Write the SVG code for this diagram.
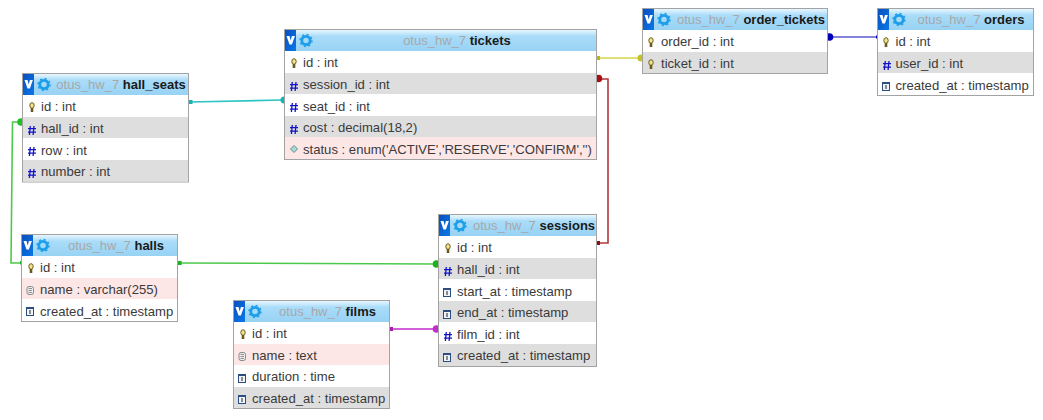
<svg xmlns="http://www.w3.org/2000/svg" xmlns:xlink="http://www.w3.org/1999/xlink" width="1043" height="420" viewBox="0 0 1043 420">
<style>
text{font-family:"Liberation Sans",Arial,sans-serif;font-size:13.1px;fill:#3a3a3a}
.t{font-size:13px;text-anchor:middle}
.db{fill:#a8a8a8}
.tb{font-weight:bold;fill:#1a1a1a}
.box{fill:#fff;stroke:#a3a3a3;stroke-width:1}
.g{fill:#dedede}
.p{fill:#fde6e6}
.c{fill:none;stroke-width:1.6}
</style>
<defs>
<linearGradient id="hd" x1="0" y1="0" x2="0" y2="1"><stop offset="0" stop-color="#e8f6fe"/><stop offset=".3" stop-color="#a9dcf9"/><stop offset="1" stop-color="#98d2f4"/></linearGradient>
<linearGradient id="vb" x1="0" y1="0" x2="1" y2="1"><stop offset="0" stop-color="#0a4fc0"/><stop offset="1" stop-color="#0a78e6"/></linearGradient>
<g id="head"><rect x="0" y="0" width="11" height="21" fill="url(#vb)"/><path d="M1.500 6h3l1.200 4.500L6.900 6h3l-3 8.500H4.500z" fill="#fff"/><circle cx="21" cy="10.500" r="4.200" fill="none" stroke="#1d9ee8" stroke-width="2.800"/><circle cx="21" cy="10.500" r="6" fill="none" stroke="#1d9ee8" stroke-width="1.400" stroke-dasharray="2 2.700"/></g>
<g id="key"><ellipse cx="0" cy="-1.500" rx="2.200" ry="2.800" fill="#f3e38e" stroke="#6b5a1c"/><path d="M0 1V5" stroke="#6b5a1c" stroke-width="2.600"/></g>
<path id="hash" d="M-1.700-4-2.600 5M2-4 1.100 5M-4-1.300H4M-4 2.200H4" stroke="#1212c8" stroke-width="1.300" fill="none"/>
<g id="ts"><rect x="-3.500" y="-3.500" width="7" height="8" fill="#eef4fa" stroke="#2c4d80"/><path d="M-3-2.500h6" stroke="#2c4d80"/><path d="M0-1v4" stroke="#222"/></g>
<g id="txt"><rect x="-3" y="-3.500" width="6.500" height="8" rx="2" fill="#eee" stroke="#888"/><path d="M-1.500-1.500h3.500M-1.500.500h3.500M-1.500 2.500h3.500" stroke="#777" stroke-width=".8"/></g>
<path id="en" d="M0-3.500 3.500 0 0 3.500-3.500 0z" fill="#a5dcd5" stroke="#6b8a8a"/>
</defs>
<rect width="1043" height="420" fill="#fff"/>
<g id="connectors">
<path class="c" stroke="#2ec4c4" d="M190 102 283 100"/><rect x="188.500" y="100" width="4" height="4" fill="#16b5b5"/><circle cx="284" cy="100" r="3.500" fill="#16b5b5"/>
<path class="c" stroke="#d6d64a" d="M597 58H642"/><rect x="596" y="56" width="4" height="4" fill="#b9b914"/><circle cx="641" cy="58" r="3.500" fill="#c4c420"/>
<path class="c" stroke="#b0383c" d="M598 79H608V243H597"/><circle cx="598.500" cy="78.500" r="3.800" fill="#a80f14"/><rect x="596" y="241" width="4" height="4" fill="#8e0f14"/>
<path class="c" stroke="#5a5ad0" d="M829 37H877"/><circle cx="829.500" cy="37" r="3.800" fill="#0000b8"/><rect x="876" y="35.500" width="2" height="3" fill="#0000b8"/>
<path class="c" stroke="#4cc94c" d="M21 122H12.500L11 263H21"/><circle cx="21" cy="122" r="3.800" fill="#1fc01f"/><rect x="20" y="261" width="2" height="3.500" fill="#1fb01f"/>
<path class="c" stroke="#4cc94c" d="M179 263 436 264"/><rect x="177.500" y="261" width="4" height="4" fill="#1fb01f"/><circle cx="436.500" cy="264" r="3.800" fill="#1fb01f"/>
<path class="c" stroke="#d05fd8" d="M391 329H437" style="stroke-width:2"/><rect x="389" y="327" width="4" height="4" fill="#a81fa8"/><circle cx="436.500" cy="329" r="3.800" fill="#c030c8"/>
</g>
<g id="hall_seats">
<rect class="box" x="22.500" y="73.500" width="166" height="108.500"/>
<rect x="23" y="74" width="165" height="21" fill="url(#hd)"/><use xlink:href="#head" href="#head" x="23" y="74"/>
<rect class="g" x="23" y="117" width="165" height="21"/><rect class="g" x="23" y="160" width="165" height="21.500"/>
<text class="t" x="121" y="89"><tspan class="db">otus_hw_7 </tspan><tspan class="tb">hall_seats</tspan></text>
<text x="41" y="110.500">id : int</text><text x="41" y="132.500">hall_id : int</text><text x="41" y="154.500">row : int</text><text x="41" y="175.500">number : int</text>
<use href="#key" x="32" y="107"/><use href="#hash" x="32" y="130"/><use href="#hash" x="32" y="151"/><use href="#hash" x="32" y="173"/>
</g>
<g id="tickets">
<rect class="box" x="284.500" y="29.500" width="312" height="130"/>
<rect x="285" y="30" width="311" height="21" fill="url(#hd)"/><use href="#head" x="285" y="30"/>
<rect class="g" x="285" y="73" width="311" height="21"/><rect class="g" x="285" y="116" width="311" height="21"/><rect class="p" x="285" y="137" width="311" height="22"/>
<text class="t" x="457" y="45"><tspan class="db">otus_hw_7 </tspan><tspan class="tb">tickets</tspan></text>
<text x="303" y="66.500">id : int</text><text x="303" y="88.500">session_id : int</text><text x="303" y="110.500">seat_id : int</text><text x="303" y="131.500">cost : decimal(18,2)</text><text x="303" y="153.500">status : enum('ACTIVE','RESERVE','CONFIRM','')</text>
<use href="#key" x="294" y="63"/><use href="#hash" x="294" y="86"/><use href="#hash" x="294" y="107"/><use href="#hash" x="294" y="129"/><use href="#en" x="294" y="149"/>
</g>
<g id="order_tickets">
<rect class="box" x="642.500" y="8.500" width="185" height="65"/>
<rect x="643" y="9" width="184" height="21" fill="url(#hd)"/><use href="#head" x="643" y="9"/>
<rect class="g" x="643" y="52" width="184" height="21"/>
<text class="t" x="751" y="24"><tspan class="db">otus_hw_7 </tspan><tspan class="tb">order_tickets</tspan></text>
<text x="661" y="45.500">order_id : int</text><text x="661" y="67.500">ticket_id : int</text>
<use href="#key" x="651" y="42"/><use href="#key" x="651" y="64"/>
</g>
<g id="orders">
<rect class="box" x="877.500" y="8.500" width="156" height="87"/>
<rect x="878" y="9" width="155" height="21" fill="url(#hd)"/><use href="#head" x="878" y="9"/>
<rect class="g" x="878" y="52" width="155" height="21"/>
<text class="t" x="971" y="24"><tspan class="db">otus_hw_7 </tspan><tspan class="tb">orders</tspan></text>
<text x="895.500" y="45.500">id : int</text><text x="895.500" y="67.500">user_id : int</text><text x="895.500" y="89.500">created_at : timestamp</text>
<use href="#key" x="886" y="42"/><use href="#hash" x="887" y="65"/><use href="#ts" x="886" y="86"/>
</g>
<g id="halls">
<rect class="box" x="21.500" y="234.500" width="156" height="87"/>
<rect x="22" y="235" width="155" height="21" fill="url(#hd)"/><use href="#head" x="22" y="235"/>
<rect class="p" x="22" y="278" width="155" height="21"/>
<text class="t" x="116" y="250"><tspan class="db">otus_hw_7 </tspan><tspan class="tb">halls</tspan></text>
<text x="40" y="271.500">id : int</text><text x="40" y="293.500">name : varchar(255)</text><text x="40" y="315.500">created_at : timestamp</text>
<use href="#key" x="31" y="268"/><use href="#txt" x="30" y="290"/><use href="#ts" x="30" y="311"/>
</g>
<g id="sessions">
<rect class="box" x="438.500" y="214.500" width="158" height="152"/>
<rect x="439" y="215" width="157" height="21" fill="url(#hd)"/><use href="#head" x="439" y="215"/>
<rect class="g" x="439" y="258" width="157" height="21"/><rect class="g" x="439" y="301" width="157" height="21"/><rect class="g" x="439" y="344" width="157" height="22"/>
<text class="t" x="534" y="230"><tspan class="db">otus_hw_7 </tspan><tspan class="tb">sessions</tspan></text>
<text x="457" y="251.500">id : int</text><text x="457" y="273.500">hall_id : int</text><text x="457" y="295.500">start_at : timestamp</text><text x="457" y="316.500">end_at : timestamp</text><text x="457" y="338.500">film_id : int</text><text x="457" y="359.500">created_at : timestamp</text>
<use href="#key" x="448" y="248"/><use href="#hash" x="448" y="271"/><use href="#ts" x="447" y="292"/><use href="#ts" x="447" y="314"/><use href="#hash" x="448" y="336"/><use href="#ts" x="447" y="357"/>
</g>
<g id="films">
<rect class="box" x="233.500" y="300.500" width="156" height="108"/>
<rect x="234" y="301" width="155" height="21" fill="url(#hd)"/><use href="#head" x="234" y="301"/>
<rect class="p" x="234" y="344" width="155" height="21"/><rect class="g" x="234" y="387" width="155" height="21"/>
<text class="t" x="327.500" y="316"><tspan class="db">otus_hw_7 </tspan><tspan class="tb">films</tspan></text>
<text x="252" y="337.500">id : int</text><text x="252" y="359.500">name : text</text><text x="252" y="380.500">duration : time</text><text x="252" y="402.500">created_at : timestamp</text>
<use href="#key" x="243" y="334"/><use href="#txt" x="242" y="356"/><use href="#ts" x="242" y="378"/><use href="#ts" x="242" y="399"/>
</g>
</svg>
